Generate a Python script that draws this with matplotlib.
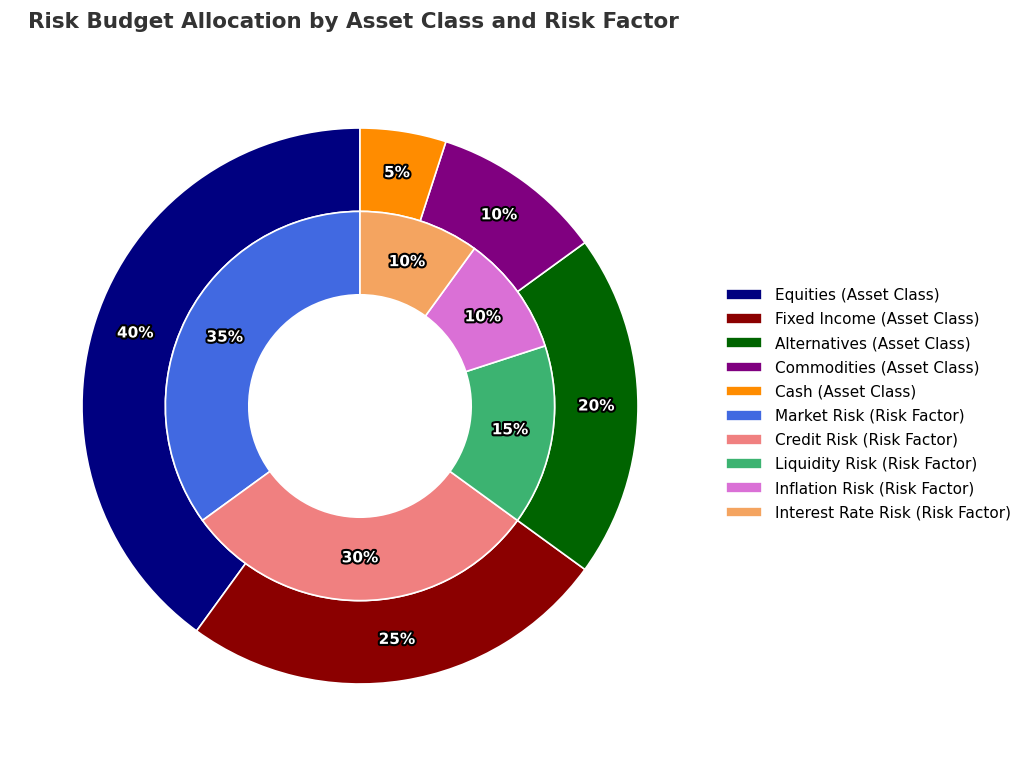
import matplotlib
matplotlib.use("Agg")
import matplotlib.pyplot as plt
import matplotlib.patheffects as pe

asset_labels = ["Equities (Asset Class)", "Fixed Income (Asset Class)", "Alternatives (Asset Class)",
                "Commodities (Asset Class)", "Cash (Asset Class)"]
asset_values = [40, 25, 20, 10, 5]
asset_colors = ["#000080", "#8B0000", "#006400", "#800080", "#FF8C00"]

risk_labels = ["Market Risk (Risk Factor)", "Credit Risk (Risk Factor)", "Liquidity Risk (Risk Factor)",
               "Inflation Risk (Risk Factor)", "Interest Rate Risk (Risk Factor)"]
risk_values = [35, 30, 15, 10, 10]
risk_colors = ["#4169E1", "#F08080", "#3CB371", "#DA70D6", "#F4A460"]

fig = plt.figure(figsize=(10.24, 7.63), dpi=100)
ax = fig.add_axes([82/1024, 1-684/763, 556/1024, 556/763])

w1, t1, a1 = ax.pie(asset_values, radius=1.0, colors=asset_colors, startangle=90,
                    autopct="%d%%", pctdistance=0.85,
                    wedgeprops=dict(width=0.3, edgecolor="white", linewidth=1.2))
w2, t2, a2 = ax.pie(risk_values, radius=0.7, colors=risk_colors, startangle=90,
                    autopct="%d%%", pctdistance=0.78,
                    wedgeprops=dict(width=0.3, edgecolor="white", linewidth=1.2))
for t in list(a1) + list(a2):
    t.set_color("white")
    t.set_fontweight("bold")
    t.set_fontsize(11)
    t.set_path_effects([pe.withStroke(linewidth=3, foreground="black")])
ax.set_xlim(-1.0, 1.0)
ax.set_ylim(-1.0, 1.0)
ax.set_aspect("equal")

fig.legend(w1 + w2, asset_labels + risk_labels, loc="center left",
           bbox_to_anchor=(712/1024, 1-404/763), frameon=False, fontsize=11,
           labelspacing=0.6, handlelength=2.4)
fig.text(28/1024, 1-22/763, "Risk Budget Allocation by Asset Class and Risk Factor",
         fontsize=15.5, fontweight="bold", color="#333333", va="center", ha="left")
fig.savefig("out.png", dpi=100)
